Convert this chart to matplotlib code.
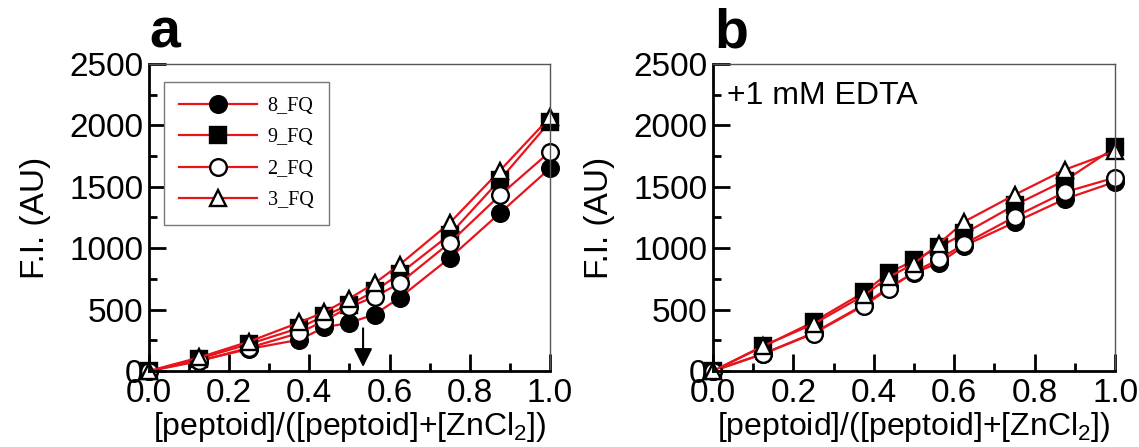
import numpy as np
import matplotlib.pyplot as plt
from matplotlib.ticker import MultipleLocator

plt.rcParams['font.family'] = ['Liberation Sans', 'DejaVu Sans']
plt.rcParams['mathtext.default'] = 'regular'

# Mole fraction of peptoid
x = [0.0, 0.125, 0.25, 0.375, 0.4375, 0.5, 0.5625, 0.625, 0.75, 0.875, 1.0]

labels = ['8_FQ', '9_FQ', '2_FQ', '3_FQ']

# Panel a: no EDTA
a_8fq = [0, 85, 180, 255, 355, 393, 460, 596, 920, 1285, 1650]
a_9fq = [0, 100, 220, 350, 450, 540, 650, 790, 1110, 1555, 2030]
a_2fq = [0, 80, 190, 310, 410, 522, 604, 714, 1044, 1430, 1785]
a_3fq = [0, 110, 240, 395, 480, 590, 714, 865, 1205, 1630, 2065]

# Panel b: +1 mM EDTA
b_8fq = [0, 140, 310, 540, 680, 800, 880, 1020, 1210, 1400, 1540]
b_9fq = [0, 200, 400, 640, 800, 900, 1010, 1120, 1350, 1550, 1820]
b_2fq = [0, 140, 305, 533, 669, 806, 910, 1035, 1255, 1456, 1575]
b_3fq = [0, 205, 383, 615, 765, 874, 1038, 1216, 1434, 1639, 1790]

red = '#e8141c'
styles = [
    dict(marker='o', markerfacecolor='black'),
    dict(marker='s', markerfacecolor='black'),
    dict(marker='o', markerfacecolor='white'),
    dict(marker='^', markerfacecolor='white'),
]

fig = plt.figure(figsize=(11.39, 4.47), dpi=100)
ax_a = fig.add_axes([0.1308, 0.170, 0.352, 0.687])
ax_b = fig.add_axes([0.626, 0.170, 0.353, 0.687])


def style_axes(ax):
    ax.set_xlim(0, 1.0)
    ax.set_ylim(0, 2500)
    ax.xaxis.set_major_locator(MultipleLocator(0.2))
    ax.xaxis.set_minor_locator(MultipleLocator(0.1))
    ax.yaxis.set_major_locator(MultipleLocator(500))
    ax.yaxis.set_minor_locator(MultipleLocator(250))
    ax.xaxis.set_major_formatter(plt.FormatStrFormatter('%.1f'))
    ax.tick_params(which='major', direction='in', length=12, width=2,
                   labelsize=24, pad=4)
    ax.tick_params(which='minor', direction='in', length=6, width=2)
    ax.tick_params(axis='x', which='major', pad=5)
    for side in ['left', 'bottom']:
        ax.spines[side].set_linewidth(2)
        ax.spines[side].set_color('black')
    for side in ['top', 'right']:
        ax.spines[side].set_linewidth(1)
        ax.spines[side].set_color('#555555')
    ax.set_xlabel('[peptoid]/([peptoid]+[ZnCl$_2$])', fontsize=23, labelpad=1)
    ax.set_ylabel('F.I. (AU)', fontsize=24, labelpad=13)


def draw(ax, series):
    handles = []
    for y, st, lab in zip(series, styles, labels):
        h, = ax.plot(x, y, color=red, linewidth=1.6, markersize=12,
                     markeredgecolor='black', markeredgewidth=1.7,
                     label=lab, clip_on=False, **st)
        handles.append(h)
    return handles


handles = draw(ax_a, [a_8fq, a_9fq, a_2fq, a_3fq])
draw(ax_b, [b_8fq, b_9fq, b_2fq, b_3fq])

for ax in (ax_a, ax_b):
    style_axes(ax)

leg = ax_a.legend(handles=handles, loc='upper left',
                  bbox_to_anchor=(0.037, 0.941), borderaxespad=0,
                  prop={'family': 'Liberation Serif', 'size': 14.5},
                  handlelength=3.9, handletextpad=0.5, labelspacing=0.6,
                  borderpad=0.75, fancybox=False, framealpha=1)
leg.get_frame().set_edgecolor('#777777')
leg.get_frame().set_linewidth(1)

# arrow marking the transition point
ax_a.annotate('', xy=(0.534, 10), xytext=(0.534, 370),
              arrowprops=dict(arrowstyle='-|>', color='black', lw=1.5,
                              mutation_scale=28))

ax_b.text(0.035, 0.895, '+1 mM EDTA', transform=ax_b.transAxes,
          fontsize=23, va='center', ha='left')

fig.text(0.145, 0.925, 'a', fontsize=40, fontweight='bold', ha='center', va='center')
fig.text(0.642, 0.925, 'b', fontsize=40, fontweight='bold', ha='center', va='center')

fig.savefig('out.png', dpi=100)
